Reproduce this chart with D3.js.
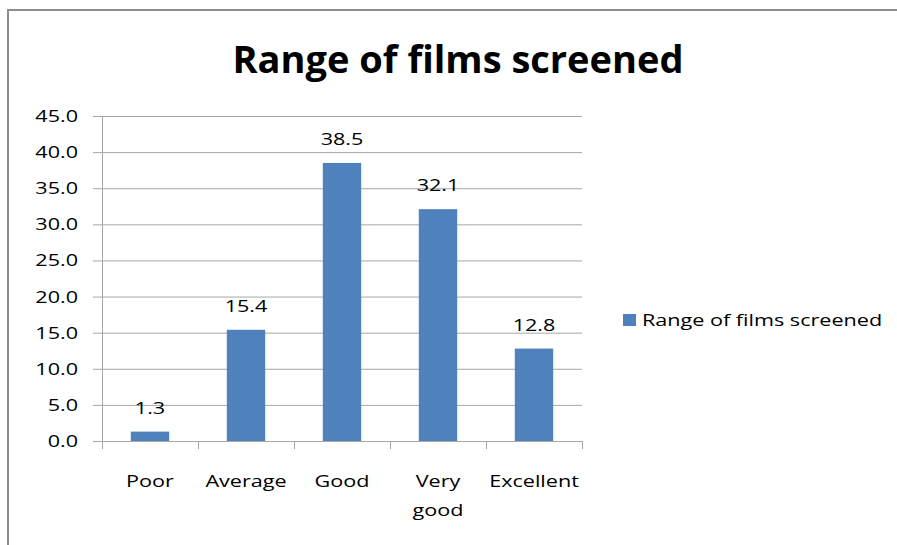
<!DOCTYPE html>
<html>
<head>
<meta charset="utf-8">
<script src="https://cdn.jsdelivr.net/npm/d3@7"></script>
<style>
  body { margin: 0; background: #fff; }
  svg { display: block; }
  text { font-family: "Open Sans", sans-serif; fill: #000; }
</style>
</head>
<body>
<svg width="897" height="545"></svg>
<script>
var categories = ["Poor", "Average", "Good", "Very good", "Excellent"];
var values = [1.3, 15.4, 38.5, 32.1, 12.8];
var yTicks = [0, 5, 10, 15, 20, 25, 30, 35, 40, 45];
var seriesName = "Range of films screened";
var title = "Range of films screened";

var svg = d3.select("svg");
var barColor = "#4f81bd";
var gridColor = "#a6a6a6";
var stretch = 1.27; // the small texts in the picture are stretched sideways

// place a text at (x, y), widened by the stretch factor
function at(x, y) {
    return "translate(" + x + "," + y + ") scale(" + stretch + ",1)";
}

// chart frame
svg.append("rect")
    .attr("x", 8).attr("y", 10)
    .attr("width", 900).attr("height", 560)
    .attr("fill", "none")
    .attr("stroke", "#8c8c8c")
    .attr("stroke-width", 2);

svg.append("text")
    .attr("x", 458).attr("y", 73)
    .attr("text-anchor", "middle")
    .style("font-size", "38px")
    .style("font-weight", "bold")
    .text(title);

var plotL = 102, plotR = 582, plotT = 116, plotB = 441;

var x = d3.scaleBand()
    .domain(categories)
    .range([plotL, plotR])
    .paddingInner(0.6)
    .paddingOuter(0.3);

var xCat = d3.scaleBand().domain(categories).range([plotL, plotR]);

var y = d3.scaleLinear()
    .domain([0, 45])
    .range([plotB, plotT]);

// gridlines
svg.append("g")
    .selectAll("line")
    .data(yTicks)
    .enter().append("line")
        .attr("x1", plotL - 9).attr("x2", plotR)
        .attr("y1", function(d) { return y(d) + 0.5; })
        .attr("y2", function(d) { return y(d) + 0.5; })
        .attr("stroke", gridColor)
        .attr("stroke-width", 1);

// y axis line
svg.append("line")
    .attr("x1", plotL + 0.5).attr("x2", plotL + 0.5)
    .attr("y1", plotT).attr("y2", plotB + 0.5)
    .attr("stroke", gridColor);

// y labels
svg.append("g")
    .selectAll("text")
    .data(yTicks)
    .enter().append("text")
        .attr("transform", function(d) { return at(78, y(d) + 6); })
        .attr("text-anchor", "end")
        .style("font-size", "17px")
        .text(function(d) { return d.toFixed(1); });

// category ticks
var catEdges = categories.map(function(c) { return xCat(c); }).concat([plotR]);
svg.append("g")
    .selectAll("line")
    .data(catEdges)
    .enter().append("line")
        .attr("x1", function(d) { return Math.round(d) + 0.5; })
        .attr("x2", function(d) { return Math.round(d) + 0.5; })
        .attr("y1", plotB).attr("y2", plotB + 8)
        .attr("stroke", gridColor);

// bars
svg.append("g")
    .selectAll("rect")
    .data(values)
    .enter().append("rect")
        .attr("x", function(d, i) { return x(categories[i]); })
        .attr("width", x.bandwidth())
        .attr("y", function(d) { return y(d); })
        .attr("height", function(d) { return plotB - y(d); })
        .attr("fill", barColor);

// value labels
svg.append("g")
    .selectAll("text")
    .data(values)
    .enter().append("text")
        .attr("transform", function(d, i) {
            return at(x(categories[i]) + x.bandwidth() / 2, y(d) - 18);
        })
        .attr("text-anchor", "middle")
        .style("font-size", "17px")
        .text(function(d) { return d.toFixed(1); });

// category labels (wrap two-word labels)
svg.append("g")
    .selectAll("text")
    .data(categories)
    .enter().append("text")
        .attr("transform", function(d) { return at(xCat(d) + xCat.bandwidth() / 2, 487); })
        .attr("text-anchor", "middle")
        .style("font-size", "17px")
        .each(function(d) {
            var words = d.split(" ");
            var t = d3.select(this);
            words.forEach(function(w, i) {
                t.append("tspan")
                    .attr("x", 0)
                    .attr("dy", i === 0 ? 0 : 29)
                    .text(w);
            });
        });

// legend
svg.append("rect")
    .attr("x", 623).attr("y", 314)
    .attr("width", 13).attr("height", 12)
    .attr("fill", barColor);
svg.append("text")
    .attr("transform", at(642, 326))
    .style("font-size", "17px")
    .text(seriesName);
</script>
</body>
</html>
